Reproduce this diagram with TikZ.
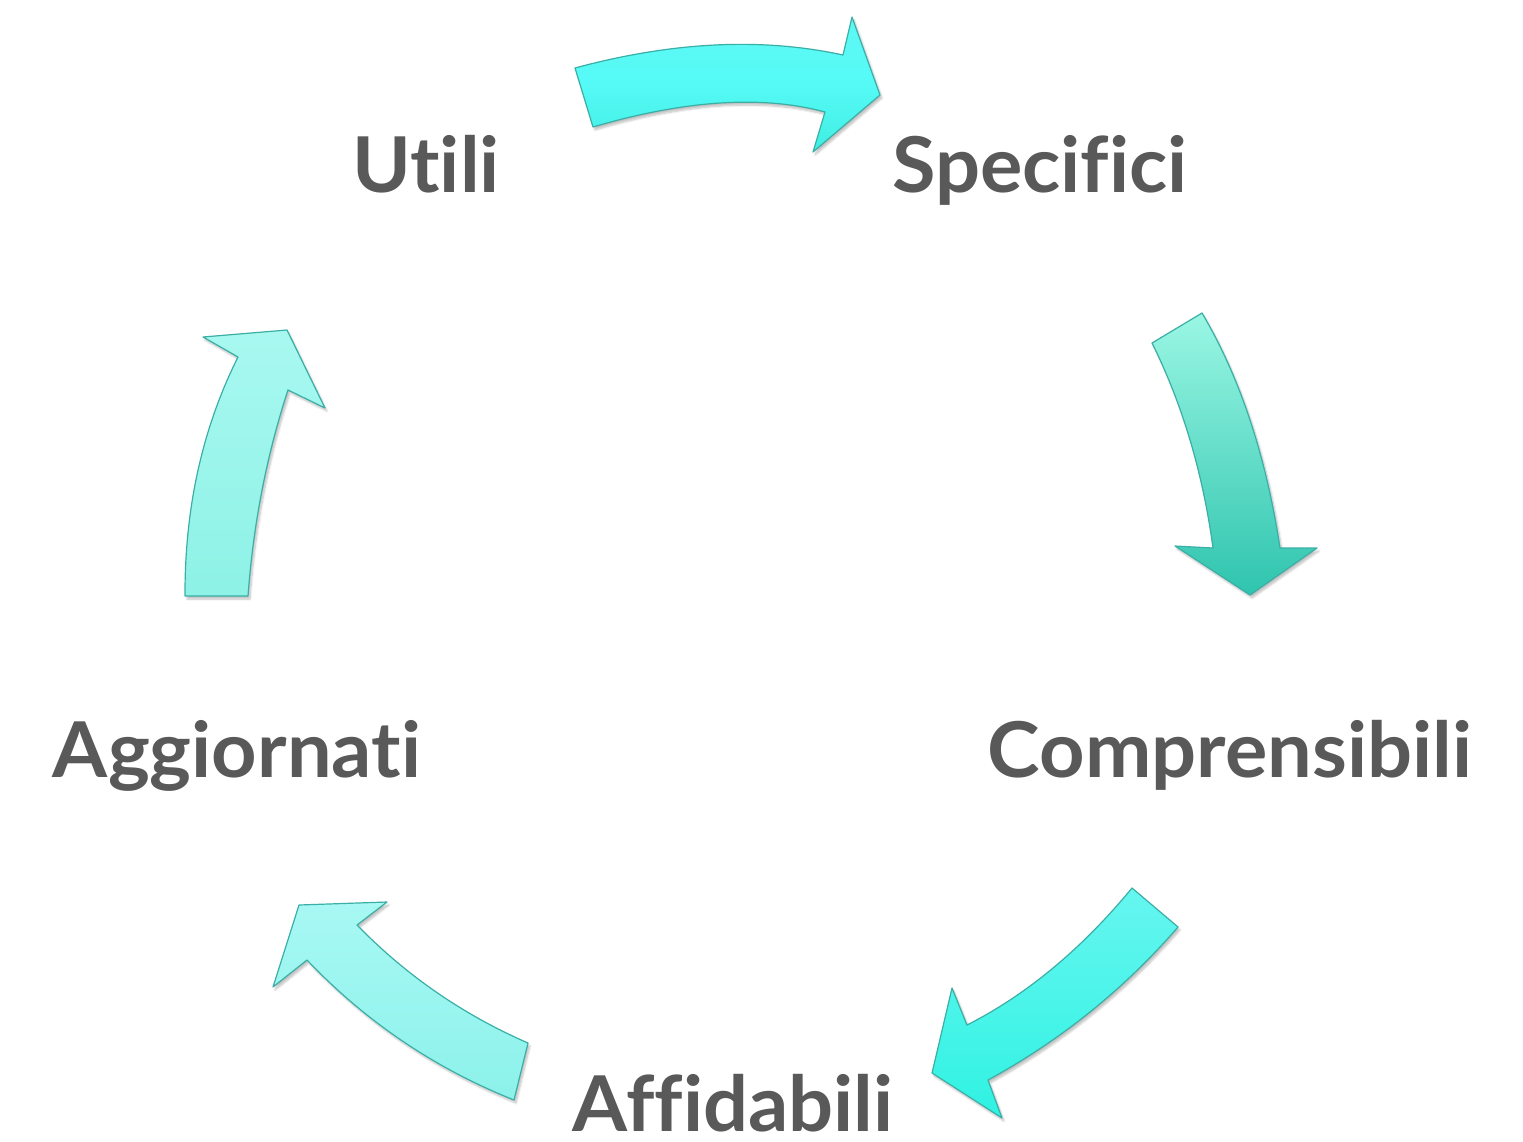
\documentclass[tikz,border=0pt]{standalone}
\usepackage{fontspec}
\setmainfont{Lato}[Ligatures={NoCommon,NoRare,NoContextual},FakeStretch=1.03]
\usetikzlibrary{shadows.blur}
\definecolor{txt}{HTML}{595959}
\definecolor{edge}{HTML}{3AAFA6}
\definecolor{aoneT}{HTML}{5EF8F4}
\definecolor{aoneM}{HTML}{55FAF6}
\definecolor{aoneB}{HTML}{40EEE2}
\definecolor{atwoT}{HTML}{9AF7E4}
\definecolor{atwoB}{HTML}{2FC4AE}
\definecolor{athrT}{HTML}{66F6F0}
\definecolor{athrB}{HTML}{2FF2E2}
\definecolor{afouT}{HTML}{A8F8F4}
\definecolor{afouB}{HTML}{8CF2EA}
\definecolor{afivT}{HTML}{A8F8F0}
\definecolor{afivB}{HTML}{8EF2E6}
\begin{document}
\begin{tikzpicture}[x=1pt,y=-1pt,
  lbl/.style={text=txt,font=\fontsize{77}{90}\selectfont\bfseries,anchor=base,inner sep=0pt},
  blk/.style={draw=edge,line width=1.2pt,line join=round,
    blur shadow={shadow xshift=2pt,shadow yshift=-3pt,shadow blur steps=6,shadow opacity=25}}]
\useasboundingbox (0,0) rectangle (1523,1141);
% labels
\node[lbl] (utili) at (426,192) {Utili};
\node[lbl] (spec) at (1040,192) {Specifici};
\node[lbl] (comp) at (1230,777) {Comprensibili};
\node[lbl] (aggi) at (237,777) {Aggiornati};
\node[lbl] (affi) at (733,1131) {Affidabili};
% arrow 1: Utili -> Specifici
\shade[blk,top color=aoneT,bottom color=aoneB,middle color=aoneM]
  (575,68) .. controls (672.3,41.7) and (761.7,37.3) .. (843,55) -- (852,17) -- (880,95) -- (813,152) -- (825,112)
  .. controls (762.3,95) and (685,100) .. (593,127) -- cycle;
% arrow 2: Specifici -> Comprensibili
\shade[blk,top color=atwoT,bottom color=atwoB]
  (1202,313) .. controls (1240,377.3) and (1266,455.7) .. (1280,548) -- (1317,548) -- (1250,595) -- (1175,546) -- (1213,548)
  .. controls (1202.7,472.3) and (1182.3,404) .. (1152,343) -- cycle;
% arrow 3: Comprensibili -> Affidabili
\shade[blk,shading angle=45,top color=athrT,bottom color=athrB]
  (1132,888) -- (1178,927) .. controls (1124,989.3) and (1060.7,1040.3) .. (988,1080) -- (1002,1118) -- (932,1073) -- (952,988) -- (967,1025)
  .. controls (1026.7,994.7) and (1081.7,949) .. (1132,888) -- cycle;
% arrow 4: Affidabili -> Aggiornati
\shade[blk,shading angle=-45,top color=afouT,bottom color=afouB]
  (528,1043) -- (514,1100) .. controls (434.7,1068.3) and (365.7,1021.7) .. (307,960) -- (273,987) -- (299,905) -- (387,902) -- (357,925)
  .. controls (406,975.3) and (463,1014.7) .. (528,1043) -- cycle;
% arrow 5: Aggiornati -> Utili
\shade[blk,top color=afivT,bottom color=afivB]
  (185,596) -- (248,596) .. controls (253.3,523.7) and (266.7,455) .. (288,390) -- (325,408) -- (287,330) -- (203,337) -- (238,357)
  .. controls (202.3,428.3) and (184.7,508) .. (185,596) -- cycle;
\end{tikzpicture}
\end{document}
